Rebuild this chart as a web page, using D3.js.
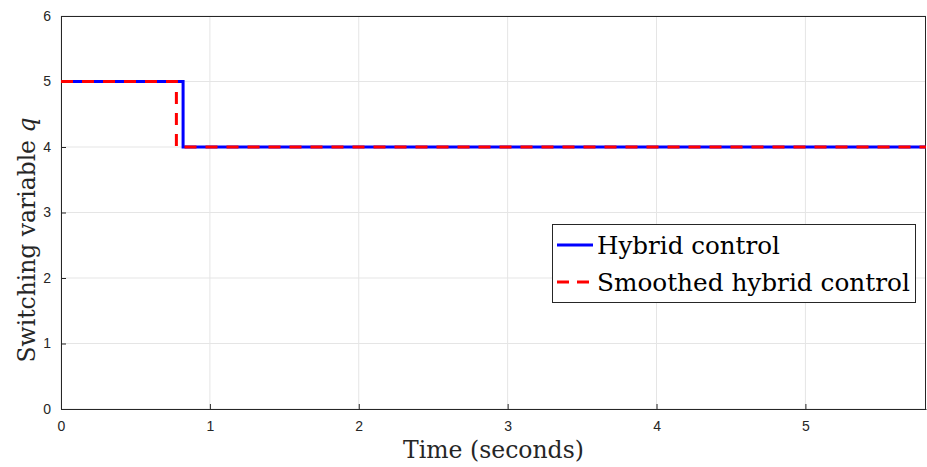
<!DOCTYPE html>
<html>
<head>
<meta charset="utf-8">
<script src="https://cdn.jsdelivr.net/npm/d3@7"></script>
<style>
  body { margin: 0; background: #fff; }
  svg { display: block; }
</style>
</head>
<body>
<script>
// data
var hybridT = [0, 0.82, 0.82, 5.81];
var hybridQ = [5, 5, 4, 4];
var smoothT = [0, 0.775, 0.775, 5.81];
var smoothQ = [5, 5, 4, 4];
var xTicks = [0, 1, 2, 3, 4, 5];
var yTicks = [0, 1, 2, 3, 4, 5, 6];
var seriesNames = ["Hybrid control", "Smoothed hybrid control"];

var serif = "DejaVu Serif, serif";

// shrink/grow a text's font size until it spans the wanted width
function fit(sel, w) {
    var fs = parseFloat(sel.style("font-size"));
    var len = sel.node().getComputedTextLength();
    sel.style("font-size", (fs * w / len) + "px");
}

function draw_chart(width, height) {
    var margin = {left: 61, right: 1, top: 16, bottom: 58};
    var svg = d3.select("body").append("svg")
                .attr("width", width)
                .attr("height", height);

    var x = d3.scaleLinear().domain([0, 5.81]).range([margin.left, width - margin.right]);
    var y = d3.scaleLinear().domain([0, 6]).range([height - margin.bottom, margin.top]);

    // grid
    svg.append("g").selectAll("line").data(xTicks).enter().append("line")
        .attr("x1", d => x(d)).attr("x2", d => x(d))
        .attr("y1", y(0)).attr("y2", y(6))
        .attr("stroke", "#e5e5e5").attr("stroke-width", 1);
    svg.append("g").selectAll("line").data(yTicks).enter().append("line")
        .attr("x1", x(0)).attr("x2", x(5.81))
        .attr("y1", d => y(d)).attr("y2", d => y(d))
        .attr("stroke", "#e5e5e5").attr("stroke-width", 1);

    // axes (ticks inward)
    var xAxis = svg.append("g").attr("transform", "translate(0," + y(0) + ")")
        .call(d3.axisBottom(x).tickValues(xTicks).tickFormat(d3.format("d"))
              .tickSizeInner(-5).tickSizeOuter(0).tickPadding(12));
    var yAxis = svg.append("g").attr("transform", "translate(" + x(0) + ",0)")
        .call(d3.axisLeft(y).tickValues(yTicks).tickFormat(d3.format("d"))
              .tickSizeInner(-5).tickSizeOuter(0).tickPadding(10));
    [xAxis, yAxis].forEach(function(a) {
        a.selectAll("path, line").attr("stroke", "#262626").attr("stroke-width", 1);
        a.selectAll("text").attr("fill", "#262626")
            .style("font-family", "Liberation Sans, Arial, sans-serif").style("font-size", "14px");
    });
    // box top/right
    svg.append("line").attr("x1", x(0)).attr("x2", x(5.81)).attr("y1", y(6) + 0.5).attr("y2", y(6) + 0.5)
        .attr("stroke", "#262626");
    svg.append("line").attr("x1", x(5.81) - 0.5).attr("x2", x(5.81) - 0.5).attr("y1", y(0)).attr("y2", y(6))
        .attr("stroke", "#262626");

    var line = d3.line().x(d => x(d[0])).y(d => y(d[1]));

    svg.append("path")
        .datum(d3.zip(hybridT, hybridQ))
        .attr("d", line)
        .attr("fill", "none").attr("stroke", "#0000ff").attr("stroke-width", 3);
    svg.append("path")
        .datum(d3.zip(smoothT, smoothQ))
        .attr("d", line)
        .attr("fill", "none").attr("stroke", "#ff0000").attr("stroke-width", 3)
        .attr("stroke-dasharray", "12,9");

    // axis labels
    var xl = svg.append("text").text("Time (seconds)")
        .attr("x", (x(0) + x(5.81)) / 2).attr("y", 458)
        .attr("text-anchor", "middle")
        .style("font-family", serif).style("font-size", "24px").attr("fill", "#262626");
    fit(xl, 181);
    var yl = svg.append("text")
        .attr("transform", "translate(35,240) rotate(-90)")
        .attr("text-anchor", "middle")
        .style("font-family", serif).style("font-size", "24px").attr("fill", "#262626");
    yl.append("tspan").text("Switching variable ");
    yl.append("tspan").text("q").style("font-style", "italic");
    fit(yl, 245);

    // legend
    var lg = svg.append("g");
    lg.append("rect").attr("x", 552.5).attr("y", 224.5).attr("width", 363).attr("height", 78)
        .attr("fill", "#fff").attr("stroke", "#262626").attr("stroke-width", 1);
    var styles = [{c: "#0000ff", dash: null}, {c: "#ff0000", dash: "12,8"}];
    var widths = [183, 313];
    seriesNames.forEach(function(name, i) {
        var yy = 245 + i * 37;
        lg.append("line").attr("x1", 557).attr("x2", 593).attr("y1", yy).attr("y2", yy)
            .attr("stroke", styles[i].c).attr("stroke-width", 3)
            .attr("stroke-dasharray", styles[i].dash);
        var t = lg.append("text").text(name).attr("x", 597).attr("y", yy + 9)
            .style("font-family", serif).style("font-size", "24px").attr("fill", "#000");
        fit(t, widths[i]);
    });
}

draw_chart(927, 467);
</script>
</body>
</html>
